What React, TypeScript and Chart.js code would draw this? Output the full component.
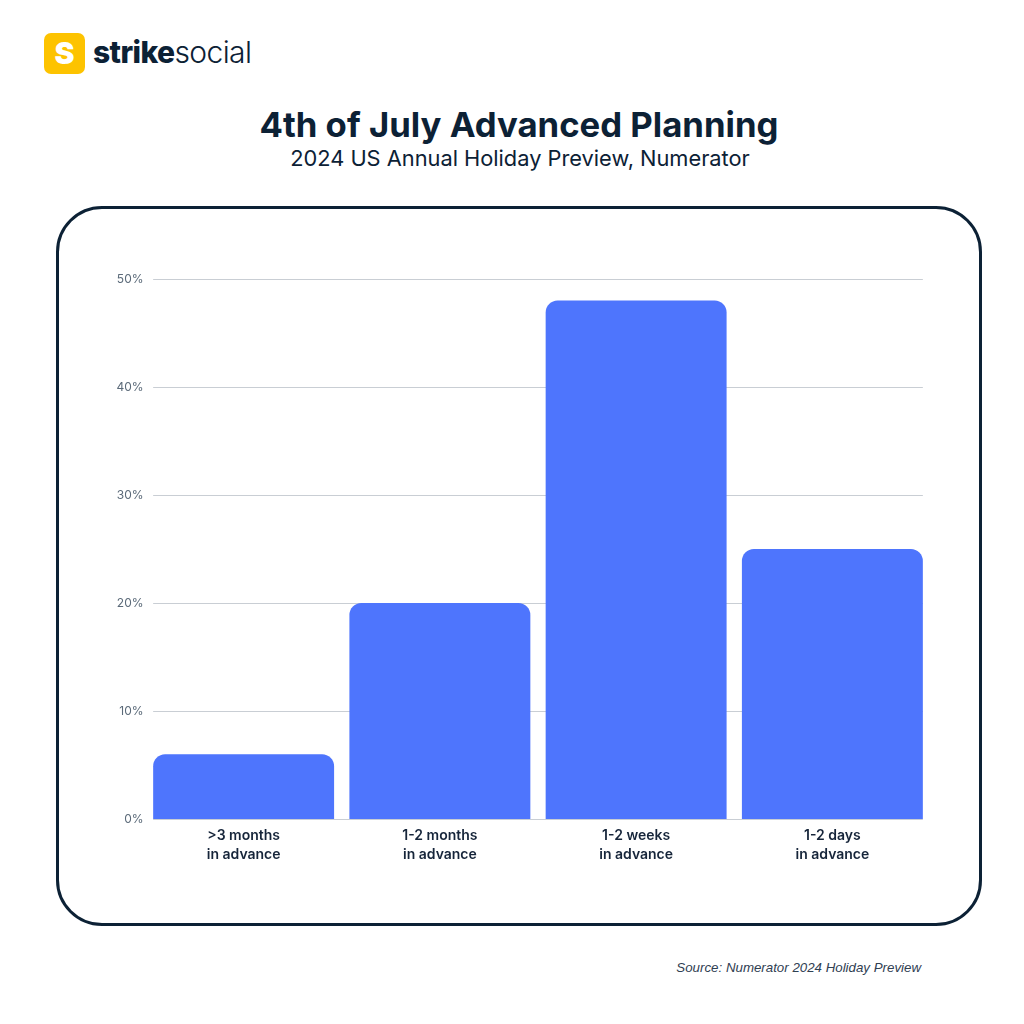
import React, { useEffect, useRef } from "react";
import { Chart, registerables } from "chart.js";

Chart.register(...registerables);

const categories: string[][] = [
  [">3 months", "in advance"],
  ["1-2 months", "in advance"],
  ["1-2 weeks", "in advance"],
  ["1-2 days", "in advance"],
];
const shares: number[] = [6, 20, 48, 25];
const yTicks: number[] = [0, 10, 20, 30, 40, 50];

const NAVY = "#0c2135";
const BAR = "#4e75fd";

const gridPlugin = {
  id: "barSpanGrid",
  beforeDatasetsDraw(chart: any) {
    const meta = chart.getDatasetMeta(0);
    const els = meta.data;
    if (!els.length) return;
    const first = els[0];
    const last = els[els.length - 1];
    const x0 = first.x - first.width / 2;
    const x1 = last.x + last.width / 2;
    const y = chart.scales.y;
    const ctx = chart.ctx;
    ctx.save();
    ctx.strokeStyle = "#c9ced4";
    ctx.lineWidth = 1;
    yTicks.forEach((t) => {
      const py = Math.round(y.getPixelForValue(t)) + 0.5;
      ctx.beginPath();
      ctx.moveTo(x0, py);
      ctx.lineTo(x1, py);
      ctx.stroke();
    });
    ctx.restore();
  },
};

function BarChart() {
  const ref = useRef<HTMLCanvasElement | null>(null);
  useEffect(() => {
    if (!ref.current) return;
    const chart = new Chart(ref.current, {
      type: "bar",
      data: {
        labels: categories,
        datasets: [
          {
            data: shares,
            backgroundColor: BAR,
            borderRadius: { topLeft: 12, topRight: 12, bottomLeft: 0, bottomRight: 0 },
            borderSkipped: "bottom",
            categoryPercentage: 1,
            barPercentage: 0.922,
          },
        ],
      },
      options: {
        animation: false,
        responsive: false,
        maintainAspectRatio: false,
        layout: { padding: { top: 39, right: 29.5, left: 0, bottom: 0 } },
        plugins: { legend: { display: false }, tooltip: { enabled: false } },
        scales: {
          x: {
            grid: { display: false, drawTicks: false },
            border: { display: false },
            ticks: {
              color: "#16253a",
              padding: 8,
              font: { family: "Inter", size: 14, weight: 600, lineHeight: 1.3 },
              maxRotation: 0,
              autoSkip: false,
            },
            afterFit: (s: any) => {
              s.height = 61;
            },
          },
          y: {
            min: 0,
            max: 50,
            grid: { display: false, drawTicks: false },
            border: { display: false },
            ticks: {
              stepSize: 10,
              color: "#5b6a79",
              padding: 2,
              font: { family: "Inter", size: 12 },
              callback: (v: any) => v + "%",
            },
            afterFit: (s: any) => {
              s.width = 85.5;
            },
          },
        },
      },
      plugins: [gridPlugin],
    });
    return () => chart.destroy();
  }, []);
  return (
    <canvas
      ref={ref}
      width={900}
      height={640}
      style={{ position: "absolute", left: 60, top: 240, width: 900, height: 640 }}
    />
  );
}

export default function App() {
  return (
    <div
      style={{
        position: "absolute",
        left: 0,
        top: 0,
        width: 1024,
        height: 1024,
        background: "#ffffff",
        fontFamily: "Inter, sans-serif",
        color: NAVY,
        overflow: "hidden",
      }}
    >
      <div
        style={{
          position: "absolute",
          left: 44,
          top: 33,
          width: 41,
          height: 41,
          borderRadius: 7,
          background: "#fdc300",
          color: "#ffffff",
          fontWeight: 900,
          fontSize: 30,
          lineHeight: "41px",
          textAlign: "center",
        }}
      >
        S
      </div>
      <div
        style={{
          position: "absolute",
          left: 93,
          top: 32,
          fontSize: 30,
          lineHeight: "40px",
          letterSpacing: -0.6,
          color: NAVY,
          whiteSpace: "nowrap",
        }}
      >
        <span style={{ fontWeight: 800 }}>strike</span>
        <span style={{ fontWeight: 300 }}>social</span>
      </div>
      <div
        style={{
          position: "absolute",
          left: 0,
          width: 1038,
          top: 103,
          textAlign: "center",
          fontSize: 34.7,
          fontWeight: 700,
          lineHeight: "42px",
          color: NAVY,
        }}
      >
        4th of July Advanced Planning
      </div>
      <div
        style={{
          position: "absolute",
          left: 0,
          width: 1040,
          top: 144,
          textAlign: "center",
          fontSize: 21.8,
          fontWeight: 400,
          lineHeight: "28px",
          color: NAVY,
        }}
      >
        2024 US Annual Holiday Preview, Numerator
      </div>
      <div
        style={{
          position: "absolute",
          left: 56,
          top: 206,
          width: 926,
          height: 720,
          boxSizing: "border-box",
          border: `3px solid ${NAVY}`,
          borderRadius: 46,
        }}
      />
      <BarChart />
      <div
        style={{
          position: "absolute",
          right: 103,
          top: 960,
          fontFamily: "'Liberation Sans', Arial, sans-serif",
          fontStyle: "italic",
          fontSize: 13.3,
          color: "#2f4052",
          whiteSpace: "nowrap",
        }}
      >
        Source: Numerator 2024 Holiday Preview
      </div>
    </div>
  );
}
